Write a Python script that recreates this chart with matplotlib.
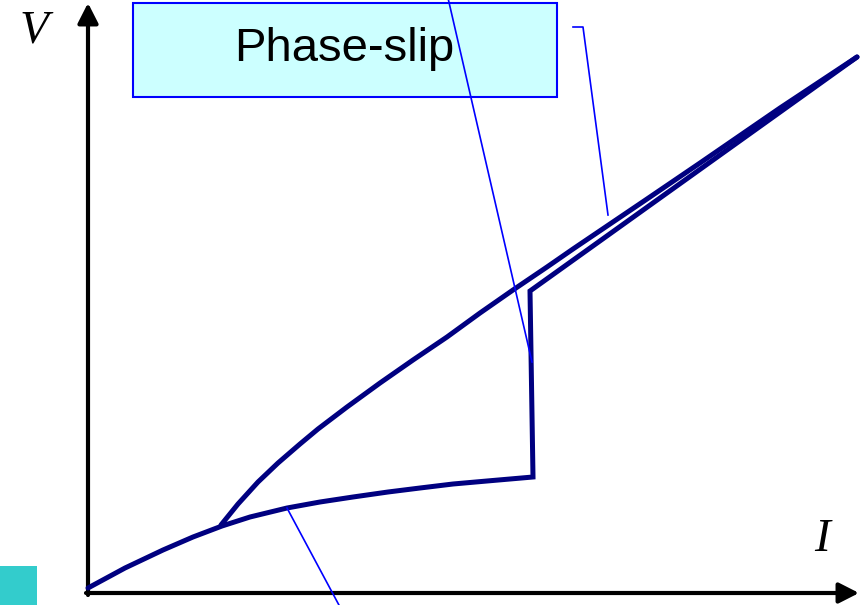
import matplotlib
matplotlib.use("Agg")
import matplotlib.pyplot as plt
from matplotlib.patches import Rectangle

# I-V characteristic (arbitrary units)
lower_I = [0.00, 0.37, 0.75, 1.05, 1.34, 1.62, 1.99, 2.32, 2.65, 3.00, 3.32, 3.65, 3.99, 4.45, 4.42, 7.69]
lower_V = [0.05, 0.25, 0.43, 0.56, 0.67, 0.76, 0.85, 0.91, 0.96, 1.01, 1.05, 1.09, 1.12, 1.16, 3.02, 5.36]

upper_I = [1.33, 1.50, 1.70, 1.90, 2.12, 2.30, 2.59, 2.92, 3.25, 3.59, 3.92, 4.25, 4.59, 4.85,
           5.59, 6.12, 6.92, 7.69]
upper_V = [0.68, 0.89, 1.11, 1.30, 1.49, 1.64, 1.86, 2.10, 2.33, 2.56, 2.80, 3.03, 3.26, 3.44,
           3.94, 4.30, 4.85, 5.36]

# leader lines
lead1_I = [3.60, 4.44]
lead1_V = [5.95, 2.31]
lead2_I = [4.85, 4.95, 5.20]
lead2_V = [5.66, 5.66, 3.78]
lead3_I = [1.99, 2.52]
lead3_V = [0.85, -0.14]

label_text = "Phase-slip"
x_label = "I"
y_label = "V"

navy = "#000080"
blue = "#0000FF"

fig = plt.figure(figsize=(8.66, 6.05), dpi=100)
ax = fig.add_axes([0, 0, 1, 1])
ax.set_xlim(-0.88, 7.78)
ax.set_ylim(-0.12, 5.93)
ax.axis("off")

# axes with arrows
arrow_kw = dict(arrowstyle="-|>,head_length=0.55,head_width=0.28", lw=3.0,
                color="black", mutation_scale=22, shrinkA=0, shrinkB=0)
ax.annotate("", xy=(0, 5.90), xytext=(0, -0.02), arrowprops=arrow_kw, zorder=3)
ax.annotate("", xy=(7.71, 0.0), xytext=(-0.02, 0.0), arrowprops=arrow_kw, zorder=3)

# curves
ax.plot(lower_I, lower_V, color=navy, lw=3.6, solid_joinstyle="miter",
        solid_capstyle="round", zorder=4)
ax.plot(upper_I, upper_V, color=navy, lw=3.6, solid_joinstyle="round",
        solid_capstyle="round", zorder=4)

# label box
ax.add_patch(Rectangle((0.45, 4.96), 4.24, 0.94, facecolor="#CCFFFF",
                       edgecolor=blue, lw=1.5, zorder=2))
ax.text(2.56, 5.32, label_text, fontsize=34, family="Liberation Sans",
        ha="center", va="baseline", color="black", zorder=3)

# leader lines
for xs, ys in [(lead1_I, lead1_V), (lead2_I, lead2_V), (lead3_I, lead3_V)]:
    ax.plot(xs, ys, color=blue, lw=1.2, zorder=5)

# axis labels
ax.text(-0.54, 5.62, y_label, fontsize=34, family="Liberation Serif",
        style="italic", ha="center", va="center")
ax.text(7.34, 0.53, x_label, fontsize=34, family="Liberation Serif",
        style="italic", ha="center", va="center")

# teal square
ax.add_patch(Rectangle((-0.88, -0.12), 0.37, 0.39, facecolor="#33CCCC",
                       edgecolor="none", zorder=1))

fig.savefig("out.png", dpi=100)
